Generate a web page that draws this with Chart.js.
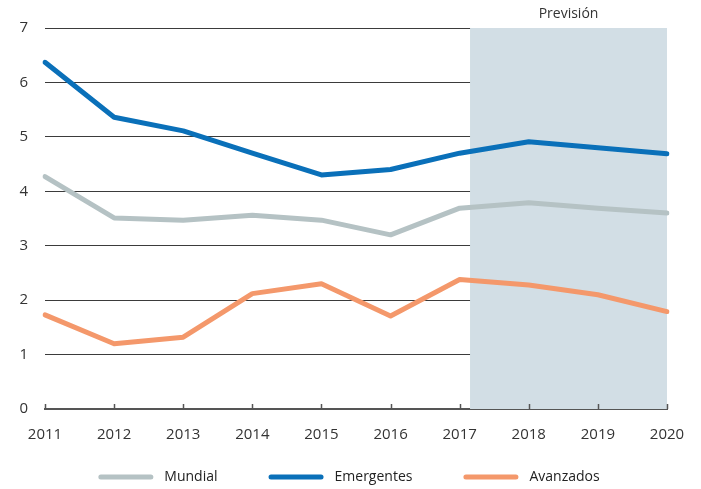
<!DOCTYPE html>
<html lang="es">
<head>
<meta charset="utf-8">
<title>Crecimiento</title>
<script src="https://cdn.jsdelivr.net/npm/chart.js@4/dist/chart.umd.min.js"></script>
<style>
  body { margin: 0; background: #fff; }
  #wrap { width: 701px; height: 489px; }
</style>
</head>
<body>
<div id="wrap"><canvas id="chart" width="701" height="489"></canvas></div>
<script>
// Data
const years = ['2011', '2012', '2013', '2014', '2015', '2016', '2017', '2018', '2019', '2020'];
const mundial = [4.27, 3.51, 3.47, 3.56, 3.47, 3.2, 3.69, 3.79, 3.69, 3.6];
const emergentes = [6.37, 5.36, 5.11, 4.7, 4.3, 4.4, 4.7, 4.91, 4.8, 4.69];
const avanzados = [1.73, 1.2, 1.32, 2.12, 2.3, 1.71, 2.38, 2.28, 2.1, 1.79];
const seriesNames = ['Mundial', 'Emergentes', 'Avanzados'];
const forecastStart = 6.15; // category index where the shaded area begins
const forecastLabel = 'Previsión';

const FONT = '"Open Sans", "Noto Sans", sans-serif';
const colors = ['#b5c2c4', '#0a70b9', '#f4986b'];

// Shaded forecast block (under grid and lines)
const forecastShade = {
  id: 'forecastShade',
  beforeDatasetsDraw(chart) {
    const { ctx, chartArea, scales } = chart;
    const x0 = scales.x.getPixelForValue(forecastStart);
    const x1 = chartArea.right;
    ctx.save();
    ctx.fillStyle = '#d2dee5';
    ctx.fillRect(x0, chartArea.top, x1 - x0, chartArea.bottom - chartArea.top);
    ctx.restore();
  },
  afterDraw(chart) {
    const { ctx, chartArea, scales } = chart;
    const x0 = scales.x.getPixelForValue(forecastStart);
    ctx.save();
    ctx.fillStyle = '#333';
    ctx.font = '14px ' + FONT;
    ctx.textAlign = 'center';
    ctx.textBaseline = 'middle';
    ctx.fillText(forecastLabel, (x0 + chartArea.right) / 2, 14);
    ctx.restore();
  }
};

// Small tick marks pointing up from the x axis
const innerTicks = {
  id: 'innerTicks',
  afterDraw(chart) {
    const { ctx, chartArea, scales } = chart;
    ctx.save();
    ctx.strokeStyle = '#555';
    ctx.lineWidth = 1.5;
    scales.x.ticks.forEach((t, i) => {
      const px = Math.round(scales.x.getPixelForTick(i)) + 0.5;
      ctx.beginPath();
      ctx.moveTo(px, chartArea.bottom - 5);
      ctx.lineTo(px, chartArea.bottom);
      ctx.stroke();
    });
    ctx.restore();
  }
};

// Legend drawn under the axis, centred
const lineLegend = {
  id: 'lineLegend',
  afterDraw(chart) {
    const { ctx } = chart;
    const lineLen = 55, textGap = 11, itemGap = 51, y = 477;
    ctx.save();
    ctx.font = '14px ' + FONT;
    const items = chart.data.datasets.map(ds => ({
      label: ds.label, color: ds.borderColor, w: ctx.measureText(ds.label).width
    }));
    const total = items.reduce((s, it) => s + lineLen + textGap + it.w, 0) + itemGap * (items.length - 1);
    let x = 349 - total / 2;
    items.forEach(it => {
      ctx.strokeStyle = it.color;
      ctx.lineWidth = 5;
      ctx.lineCap = 'round';
      ctx.beginPath();
      ctx.moveTo(x + 2.5, y);
      ctx.lineTo(x + lineLen - 2.5, y);
      ctx.stroke();
      ctx.fillStyle = '#222';
      ctx.textBaseline = 'middle';
      ctx.fillText(it.label, x + lineLen + textGap, y);
      x += lineLen + textGap + it.w + itemGap;
    });
    ctx.restore();
  }
};

const seriesData = [mundial, emergentes, avanzados];

new Chart(document.getElementById('chart'), {
  type: 'line',
  data: {
    labels: years,
    datasets: seriesNames.map((name, i) => ({
      label: name,
      data: seriesData[i],
      borderColor: colors[i],
      backgroundColor: colors[i],
      borderWidth: 5,
      borderCapStyle: 'round',
      borderJoinStyle: 'round',
      pointRadius: 0,
      tension: 0
    }))
  },
  options: {
    responsive: false,
    animation: false,
    layout: { padding: { top: 28, right: 34, bottom: 50, left: 0 } },
    plugins: {
      legend: { display: false },
      tooltip: { enabled: false }
    },
    scales: {
      x: {
        z: 1,
        offset: false,
        grid: { display: false },
        border: { display: true, color: '#555', width: 2 },
        ticks: { color: '#333', font: { family: FONT, size: 15 }, padding: 9, maxRotation: 0 },
        afterFit(s) { s.height = 30; }
      },
      y: {
        z: 1,
        min: 0,
        max: 7,
        ticks: { stepSize: 1, color: '#333', font: { family: FONT, size: 15 }, padding: 17 },
        grid: {
          drawTicks: false,
          color: ctx => ctx.tick && ctx.tick.value === 0 ? 'rgba(0,0,0,0)' : 'rgba(25,25,25,0.85)',
          lineWidth: 1
        },
        border: { display: false },
        afterFit(s) { s.width = 45; }
      }
    }
  },
  plugins: [forecastShade, innerTicks, lineLegend]
});
</script>
</body>
</html>
